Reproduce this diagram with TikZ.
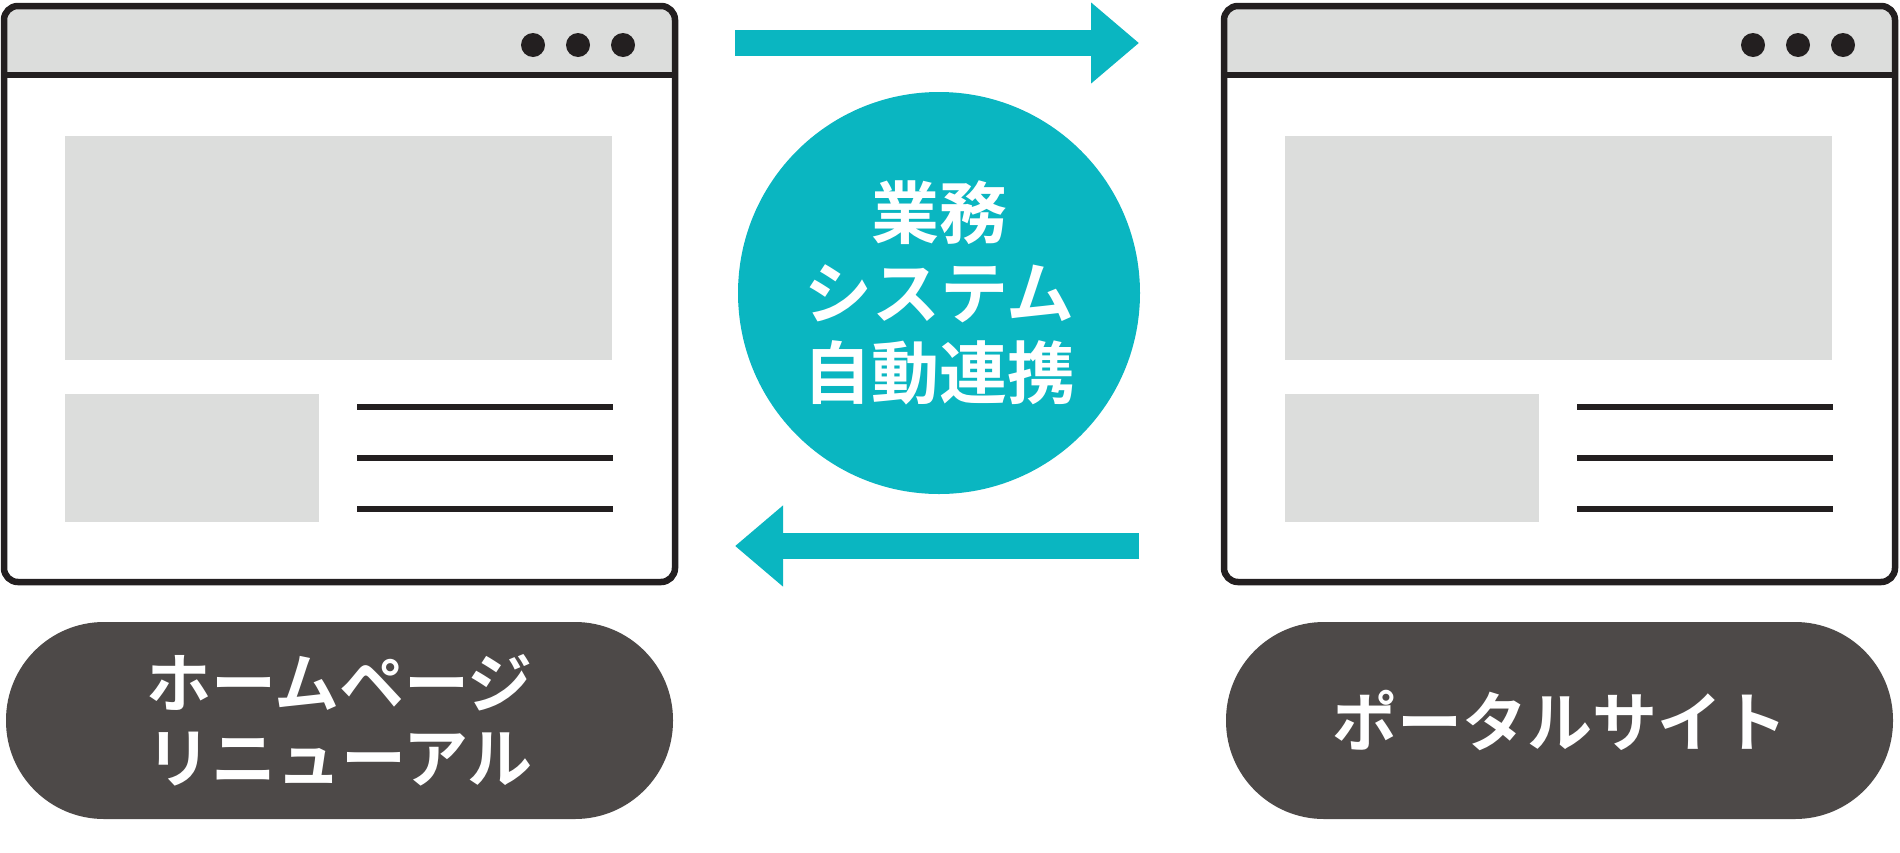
\documentclass[tikz,border=0pt]{standalone}
\usepackage{fontspec}
\newfontfamily\jp{Noto Sans CJK JP}[BoldFont={* Bold}]
\usepackage{tikz}
\usetikzlibrary{arrows.meta}
\definecolor{teal0}{HTML}{0AB6C1}
\definecolor{bar0}{HTML}{DCDDDC}
\definecolor{pill0}{HTML}{4D4948}
\definecolor{ink0}{HTML}{231F20}

\begin{document}
\begin{tikzpicture}[x=1pt,y=-1pt]
\tikzstyle{win}=[draw=ink0,line width=6.5pt,rounded corners=14pt]
\tikzstyle{hub}=[shape=circle,fill=teal0,minimum size=402pt,inner sep=0pt,text=white,align=center,font=\jp\bfseries\fontsize{68}{80}\selectfont]
\tikzstyle{tag}=[shape=rectangle,rounded corners=98pt,fill=pill0,minimum width=667pt,minimum height=197pt,text=white,align=center,font=\jp\bfseries\fontsize{65}{75}\selectfont]
\tikzstyle{flow}=[teal0,line width=26pt,-{Triangle[length=48pt,width=78pt]}]

\useasboundingbox (0,0) rectangle (1900,852);
%
\foreach \sx in {0,1220}{
\begin{scope}[xshift=\sx pt]
\begin{scope}
\clip[rounded corners=14pt] (4,6) rectangle (675,582);
\fill[white] (4,6) rectangle (675,582);
\fill[bar0] (4,6) rectangle (675,75);
\end{scope}
\draw[ink0,line width=6.5pt] (4,75) -- (675,75);
\draw[win] (4,6) rectangle (675,582);
\foreach \dx in {533,578,623} \fill[ink0] (\dx,45) circle (12pt);
\fill[bar0] (65,136) rectangle (612,360);
\fill[bar0] (65,394) rectangle (319,522);
\foreach \ly in {407,458,509} \draw[ink0,line width=6pt] (357,\ly) -- (613,\ly);
\end{scope}
}
%
\node[hub](sync) at (939,293){業務\\システム\\自動連携};
\node[tag](home) at (339.5,720.5){ホームページ\\リニューアル};
\node[tag](portal) at (1559.5,720.5){ポータルサイト};
%
\coordinate (outL) at (735,43);
\coordinate (outR) at (1139,43);
\coordinate (backR) at (1139,546);
\coordinate (backL) at (735,546);
\draw[flow] (outL) -- (outR);
\draw[flow] (backR) -- (backL);
\end{tikzpicture}
\end{document}
